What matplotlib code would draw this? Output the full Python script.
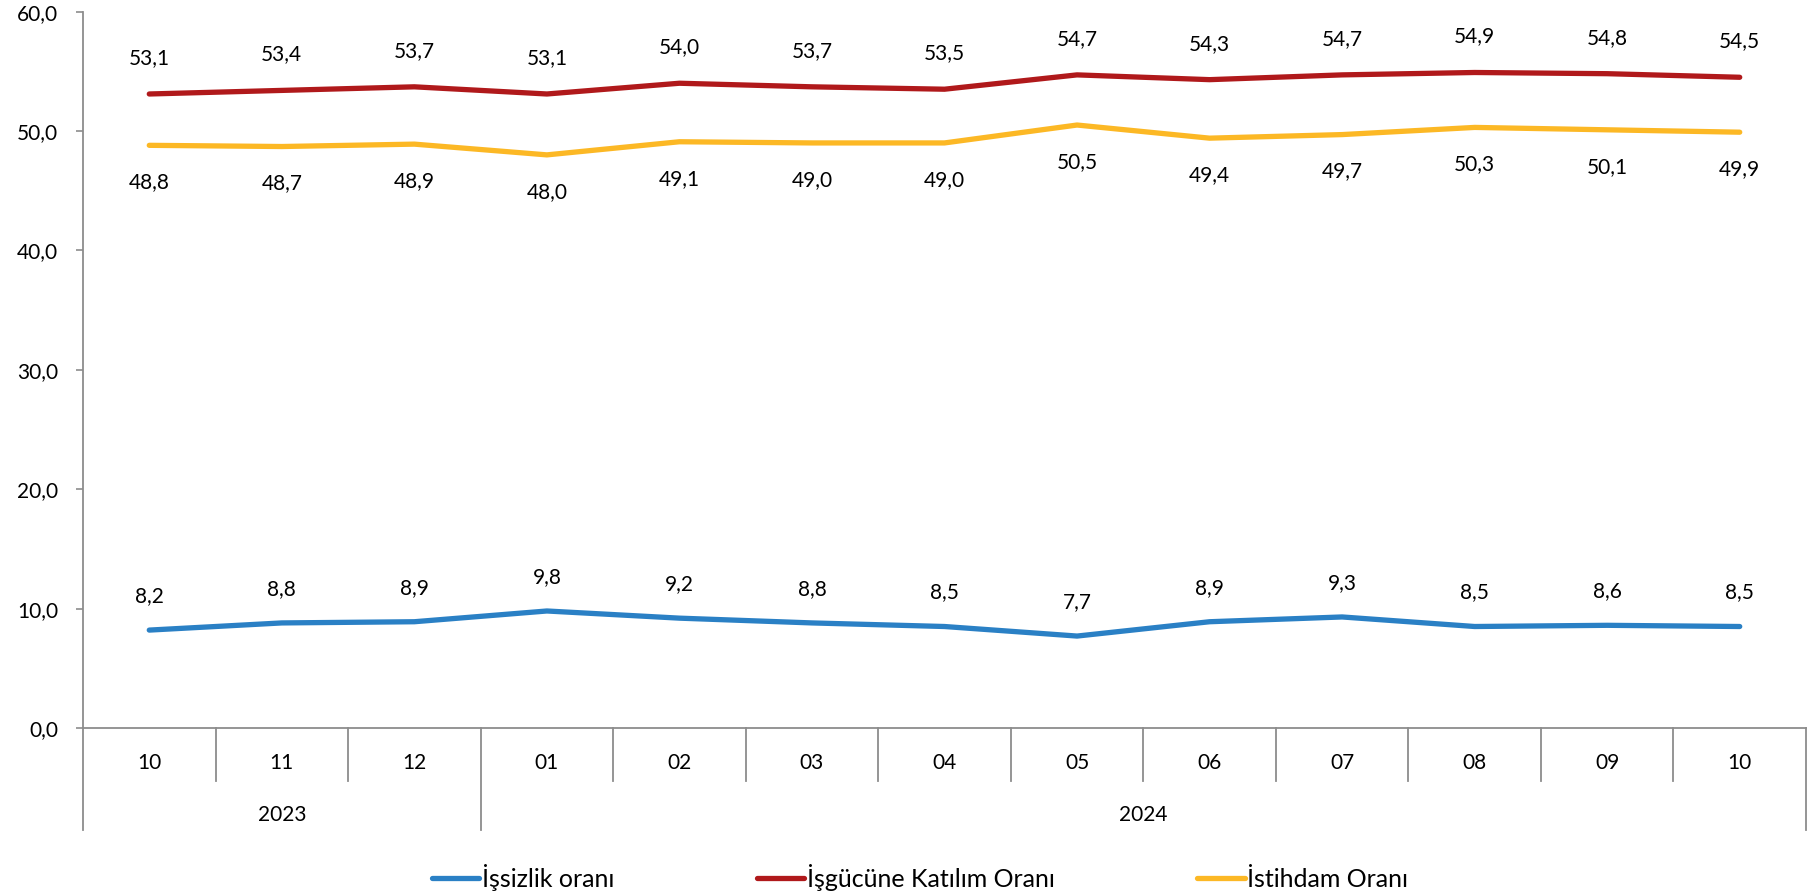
import matplotlib
matplotlib.use("Agg")
import matplotlib.pyplot as plt
from matplotlib.lines import Line2D
from matplotlib.transforms import blended_transform_factory

plt.rcParams['font.family'] = ['Lato', 'DejaVu Sans']

months = ["10", "11", "12", "01", "02", "03", "04", "05", "06", "07", "08", "09", "10"]
years = ["2023", "2024"]
year_spans = [(0, 2), (3, 12)]

issizlik = [8.2, 8.8, 8.9, 9.8, 9.2, 8.8, 8.5, 7.7, 8.9, 9.3, 8.5, 8.6, 8.5]
isgucu = [53.1, 53.4, 53.7, 53.1, 54.0, 53.7, 53.5, 54.7, 54.3, 54.7, 54.9, 54.8, 54.5]
istihdam = [48.8, 48.7, 48.9, 48.0, 49.1, 49.0, 49.0, 50.5, 49.4, 49.7, 50.3, 50.1, 49.9]

series_names = ["İşsizlik oranı", "İşgücüne Katılım Oranı", "İstihdam Oranı"]
colors = ["#2a80c5", "#b0191b", "#fcb825"]

W, H = 1812, 896
fig = plt.figure(figsize=(W / 100, H / 100), dpi=100)
ax = fig.add_axes([83 / W, 1 - 728 / H, (1806 - 83) / W, (728 - 11.6) / H])

x = list(range(len(months)))
fs = 15
grey = "#8c8c8c"

series = [issizlik, isgucu, istihdam]
offsets = [34, 36, -37]
for vals, c, name, off in zip(series, colors, series_names, offsets):
    ax.plot(x, vals, color=c, lw=3.8, solid_capstyle='round', label=name, zorder=3)
    for xi, v in zip(x, vals):
        ax.annotate(f"{v:.1f}".replace(".", ","), (xi, v), xytext=(0, off * 0.72),
                    textcoords="offset points", ha="center", va="center", fontsize=fs,
                    color="black")

ax.set_xlim(-0.5, len(months) - 0.5)
ax.set_ylim(0, 60)
ax.set_yticks(range(0, 61, 10))
ax.set_yticklabels([f"{v},0" for v in range(0, 61, 10)], fontsize=fs)
ax.tick_params(axis='y', length=5, color=grey, width=1.2, pad=13)
ax.set_xticks([])

for s in ["top", "right"]:
    ax.spines[s].set_visible(False)
ax.spines["left"].set_color(grey)
ax.spines["bottom"].set_color(grey)
ax.spines["left"].set_linewidth(1.3)
ax.spines["bottom"].set_linewidth(1.3)

trans = blended_transform_factory(ax.transData, ax.transAxes)
ph = 728 - 11.6
short = -53 / ph
long_ = -102 / ph
year_bounds = {-0.5, 2.5, len(months) - 0.5}
for b in [i - 0.5 for i in range(len(months) + 1)]:
    y1 = long_ if b in year_bounds else short
    ax.add_line(Line2D([b, b], [0, y1], transform=trans, color=grey, lw=1.3, clip_on=False))

for xi, m in zip(x, months):
    ax.text(xi, -35 / ph, m, transform=trans, ha="center", va="center", fontsize=fs)
for (a, b), yl in zip(year_spans, years):
    ax.text((a + b) / 2, -87 / ph, yl, transform=trans, ha="center", va="center", fontsize=fs)

handles = [Line2D([0], [0], color=c, lw=3.8, solid_capstyle='round') for c in colors]
fig.legend(handles, series_names, loc="center", bbox_to_anchor=(920 / W, 1 - 877 / H),
           ncol=3, frameon=False, fontsize=18, handlelength=1.9, handletextpad=0.1,
           columnspacing=5.7)

fig.savefig("out.png", dpi=100)
